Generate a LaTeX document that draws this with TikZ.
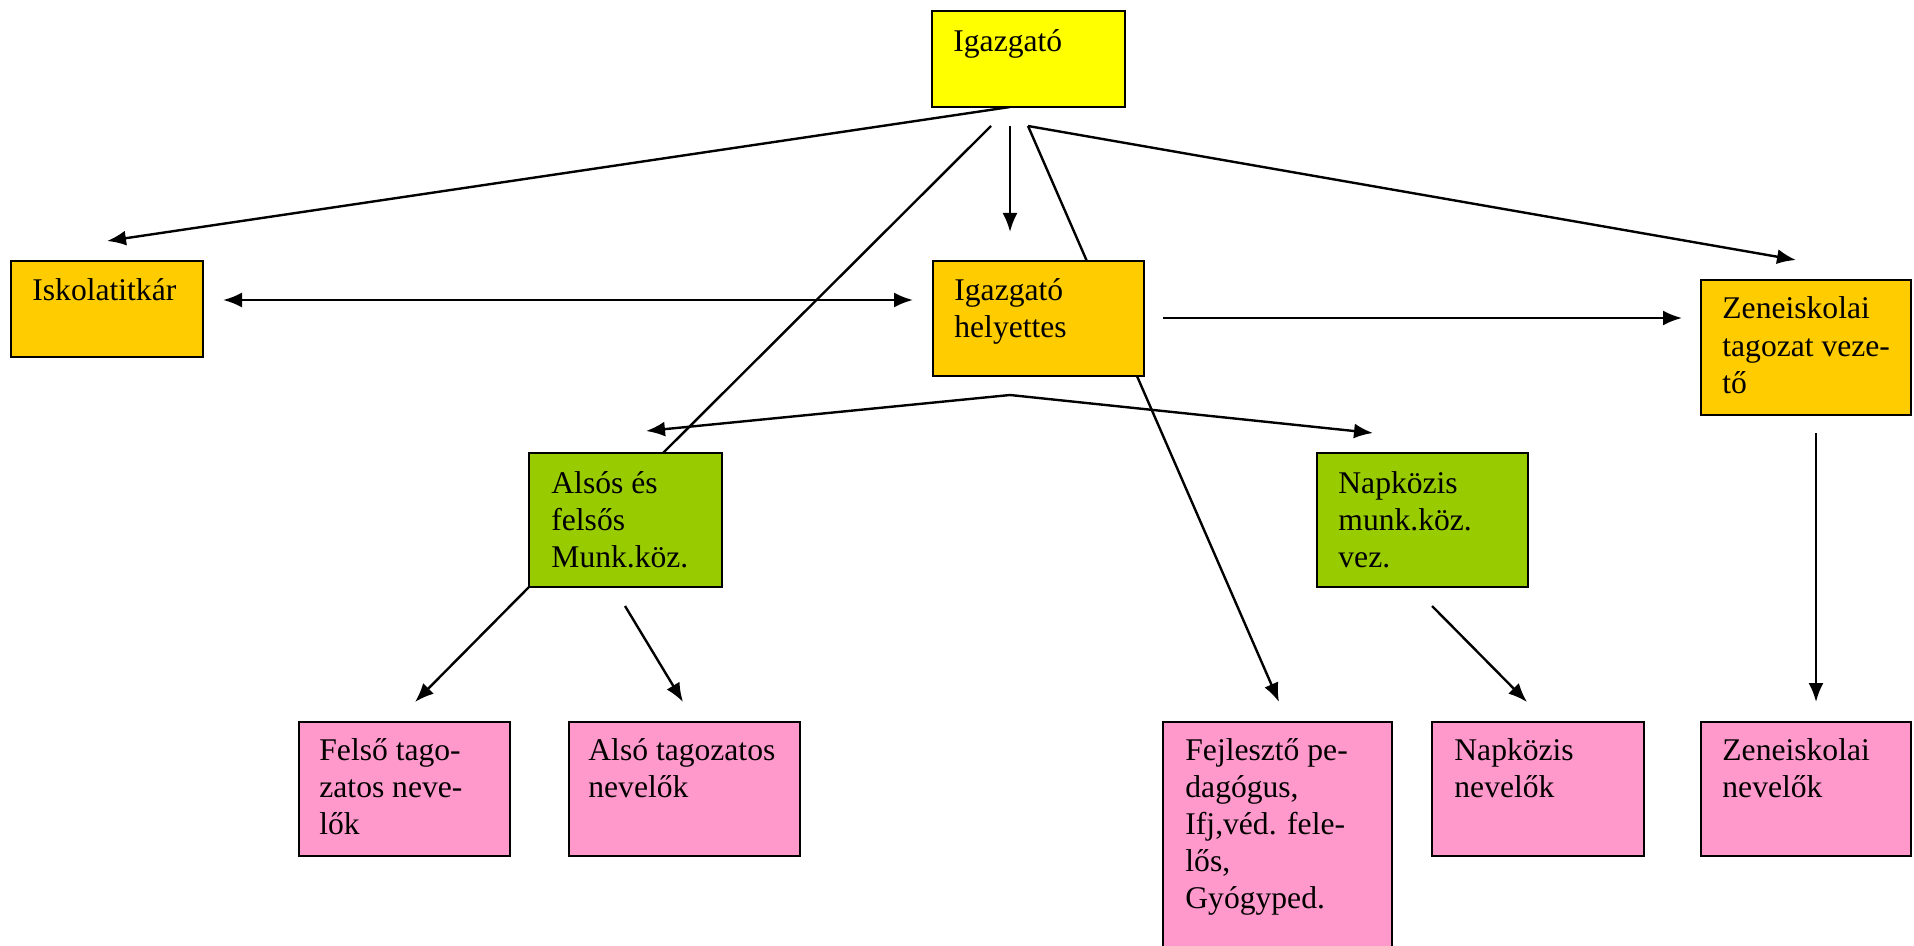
\documentclass[tikz,border=0pt]{standalone}
\usepackage{fontspec}
\setmainfont{Liberation Serif}
\usetikzlibrary{arrows.meta,fit}
\definecolor{cyellow}{HTML}{FFFF00}
\definecolor{corange}{HTML}{FFCC00}
\definecolor{cgreen}{HTML}{99CC00}
\definecolor{cpink}{HTML}{FF99CC}
\newcommand{\boxtext}[1]{\parbox[t]{140pt}{\raggedright #1}}
\begin{document}
\begin{tikzpicture}[x=0.5pt,y=-0.5pt,
  box/.style={draw=black, line width=1.1pt, inner sep=0pt},
  lbl/.style={anchor=base west, inner sep=0pt, font=\fontsize{15.8}{18.6}\selectfont},
  conn/.style={line width=1.2pt},
  arr/.style={conn, -{Latex[length=9.5pt,width=7.5pt]}},
  darr/.style={conn, {Latex[length=9.5pt,width=7.5pt]}-{Latex[length=9.5pt,width=7.5pt]}}]
\useasboundingbox[fill=white] (0,0) rectangle (1914,946);

% connector end points
\coordinate (g0) at (1010,107);
\coordinate (g1) at (991,126);
\coordinate (g2) at (1010,126);
\coordinate (g3) at (1028,126);
\coordinate (tTitkar) at (107,241);
\coordinate (tAlsoTop) at (663,453);
\coordinate (tHely) at (1010,232);
\coordinate (tFejl) at (1279,702);
\coordinate (tZeneVez) at (1796,260);
\coordinate (dL) at (223,300);
\coordinate (dR) at (913,300);
\coordinate (hR) at (1163,318);
\coordinate (zL) at (1682,318);
\coordinate (peak) at (1010,395);
\coordinate (tAlsos) at (646,431);
\coordinate (tNapk) at (1373,433);
\coordinate (aBL) at (529,587);
\coordinate (tFelso) at (415,702);
\coordinate (aB) at (625,606);
\coordinate (tAlsoTag) at (683,702);
\coordinate (nB) at (1432,606);
\coordinate (tNapNev) at (1527,702);
\coordinate (zB) at (1816,433);
\coordinate (tZeneNev) at (1816,702);

% connectors (behind the boxes)
\draw[arr] (g0) -- (tTitkar);
\draw[conn] (g1) -- (tAlsoTop);
\draw[arr] (g2) -- (tHely);
\draw[arr] (g3) -- (tFejl);
\draw[arr] (g3) -- (tZeneVez);
\draw[darr] (dL) -- (dR);
\draw[arr] (hR) -- (zL);
\draw[arr] (peak) -- (tAlsos);
\draw[arr] (peak) -- (tNapk);
\draw[arr] (aBL) -- (tFelso);
\draw[arr] (aB) -- (tAlsoTag);
\draw[arr] (nB) -- (tNapNev);
\draw[arr] (zB) -- (tZeneNev);

% boxes
\node[box, fill=cyellow, fit={(932,11) (1125,107)}] (igazgato) {};
\node[box, fill=corange, fit={(11,261) (203,357)}] (titkar) {};
\node[box, fill=corange, fit={(933,261) (1144,376)}] (helyettes) {};
\node[box, fill=corange, fit={(1701,280) (1911,415)}] (zenevez) {};
\node[box, fill=cgreen, fit={(529,453) (722,587)}] (alsos) {};
\node[box, fill=cgreen, fit={(1317,453) (1528,587)}] (napkozis) {};
\node[box, fill=cpink, fit={(299,722) (510,856)}] (felso) {};
\node[box, fill=cpink, fit={(569,722) (800,856)}] (alsotag) {};
\node[box, fill=cpink, fit={(1163,722) (1392,952)}] (fejleszto) {};
\node[box, fill=cpink, fit={(1432,722) (1644,856)}] (napnev) {};
\node[box, fill=cpink, fit={(1701,722) (1911,856)}] (zenenev) {};

% texts
\node[lbl] (tx1) at (953,52) {\boxtext{Igazgató}};
\node[lbl] (tx2) at (32,301) {\boxtext{Iskolatitkár}};
\node[lbl] (tx3) at (954,300) {\boxtext{Igazgató\\helyettes}};
\node[lbl] (tx4) at (1722,319) {\boxtext{Zeneiskolai\\tagozat veze-\\tő}};
\node[lbl] (tx5) at (551,493) {\boxtext{Alsós és\\felsős\\Munk.köz.}};
\node[lbl] (tx6) at (1338,493) {\boxtext{Napközis\\munk.köz.\\vez.}};
\node[lbl] (tx7) at (319,760) {\boxtext{Felső tago-\\zatos neve-\\lők}};
\node[lbl] (tx8) at (588,760) {\boxtext{Alsó tagozatos\\nevelők}};
\node[lbl] (tx9) at (1185,760) {\boxtext{Fejlesztő pe-\\dagógus,\\Ifj,véd. fele-\\lős,\\Gyógyped.}};
\node[lbl] (tx10) at (1454,760) {\boxtext{Napközis\\nevelők}};
\node[lbl] (tx11) at (1722,760) {\boxtext{Zeneiskolai\\nevelők}};
\end{tikzpicture}
\end{document}
